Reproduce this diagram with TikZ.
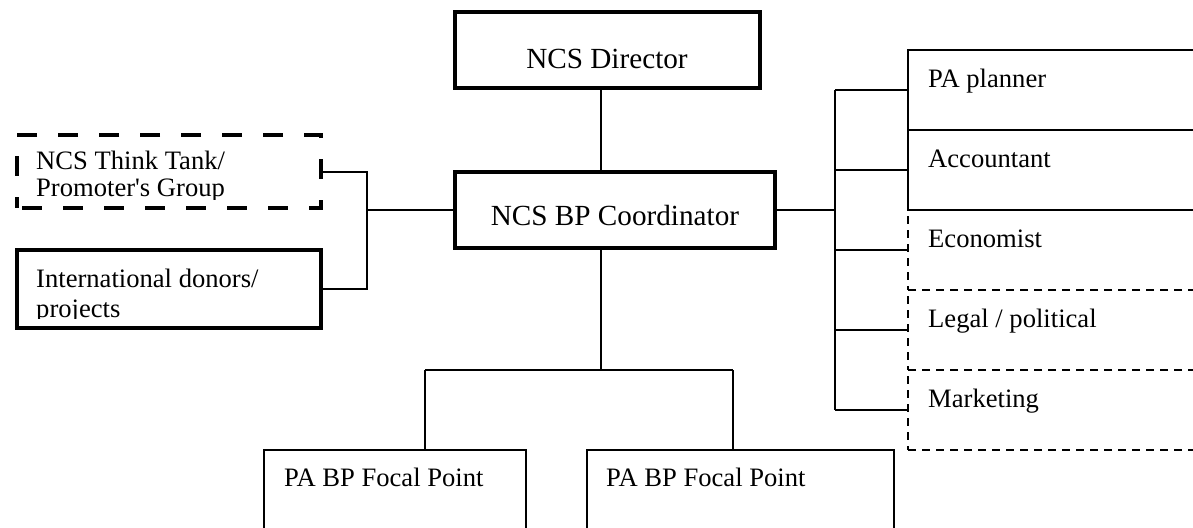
\documentclass[tikz,border=0pt]{standalone}
\usepackage{fontspec}
\setmainfont{Liberation Serif}[Ligatures=TeXOff]
\usetikzlibrary{calc}
\begin{document}
\begin{tikzpicture}[x=1pt,y=-1pt,
  box/.style={draw=black,rectangle,inner sep=0pt,outer sep=0pt,anchor=north west},
  thickbox/.style={box,line width=4.8pt},
  thinbox/.style={box,line width=2pt},
  dashbox/.style={box,line width=2pt,dash pattern=on 8pt off 6pt},
  thickdash/.style={box,line width=4.8pt,dash pattern=on 20pt off 21pt,dash phase=-5pt},
  conn/.style={draw=black,line width=2pt},
  small/.style={inner sep=0pt,font=\fontsize{26.6}{29}\selectfont},
  big/.style={inner sep=0pt,font=\fontsize{29.2}{32}\selectfont},
]
\useasboundingbox (0,0) rectangle (1193,527);
\fill[white] (0,0) rectangle (1193,527);

% centre boxes
\node[thickbox,minimum width=305pt,minimum height=76pt] (dir) at (455,12) {};
\node[thickbox,minimum width=320pt,minimum height=76pt] (coord) at (455,172) {};
\node[big,anchor=base] (tdir) at (607,68) {NCS Director};
\node[big,anchor=base] (tcoord) at (615,225) {NCS BP Coordinator};

% left boxes
\node[thickdash,minimum width=304pt,minimum height=73pt] (tt) at (17,135) {};
\node[thickbox,minimum width=304pt,minimum height=78pt] (don) at (17,250) {};
\begin{scope}
\clip (19,137) rectangle (319,199);
\node[small,anchor=base west] (ttt1) at (36,169) {NCS Think Tank/};
\node[small,anchor=base west] (ttt2) at (36,196) {Promoter's Group};
\end{scope}
\begin{scope}
\clip (19,252) rectangle (319,318.5);
\node[small,anchor=base west] (tdon1) at (36,287) {International donors/};
\node[small,anchor=base west] (tdon2) at (36,317) {projects};
\end{scope}

% right boxes (dashed first, then solid)
\node[dashbox,minimum width=300pt,minimum height=80pt] (r3) at (908,210) {};
\node[dashbox,minimum width=300pt,minimum height=80pt] (r4) at (908,290) {};
\node[dashbox,minimum width=300pt,minimum height=80pt] (r5) at (908,370) {};
\node[thinbox,minimum width=300pt,minimum height=80pt] (r1) at (908,50) {};
\node[thinbox,minimum width=300pt,minimum height=80pt] (r2) at (908,130) {};
\node[small,anchor=base west] (tr1) at (928,87) {PA planner};
\node[small,anchor=base west] (tr2) at (928,167) {Accountant};
\node[small,anchor=base west] (tr3) at (928,247) {Economist};
\node[small,anchor=base west] (tr4) at (928,327) {Legal / political};
\node[small,anchor=base west] (tr5) at (928,407) {Marketing};

% bottom boxes
\node[thinbox,minimum width=262pt,minimum height=100pt] (f1) at (264,450) {};
\node[thinbox,minimum width=307pt,minimum height=100pt] (f2) at (587,450) {};
\node[small,anchor=base west] (tf1) at (284,486) {PA BP Focal Point};
\node[small,anchor=base west] (tf2) at (606,486) {PA BP Focal Point};

% connector guides
\coordinate (cx) at (601,0);
\coordinate (lx) at (367,0);
\coordinate (rx) at (835,0);
\coordinate (by) at (0,370);
\coordinate (fx1) at (425,0);
\coordinate (fx2) at (733,0);

% connectors
\draw[conn] (cx |- dir.south) -- (cx |- coord.north);
\draw[conn] (tt.east) -- (tt.east -| lx) -- (don.east -| lx) -- (don.east);
\draw[conn] (coord.west) -- (coord.west -| lx);
\draw[conn] (coord.east) -- (coord.east -| rx);
\draw[conn] (r1.west -| rx) -- (r5.west -| rx);
\foreach \r in {r1,r2,r3,r4,r5}{\draw[conn] (\r.west -| rx) -- (\r.west);}
\draw[conn] (cx |- coord.south) -- (cx |- by);
\draw[conn] (fx1 |- by) -- (fx2 |- by);
\draw[conn] (fx1 |- by) -- (fx1 |- f1.north);
\draw[conn] (fx2 |- by) -- (fx2 |- f2.north);
\end{tikzpicture}
\end{document}
